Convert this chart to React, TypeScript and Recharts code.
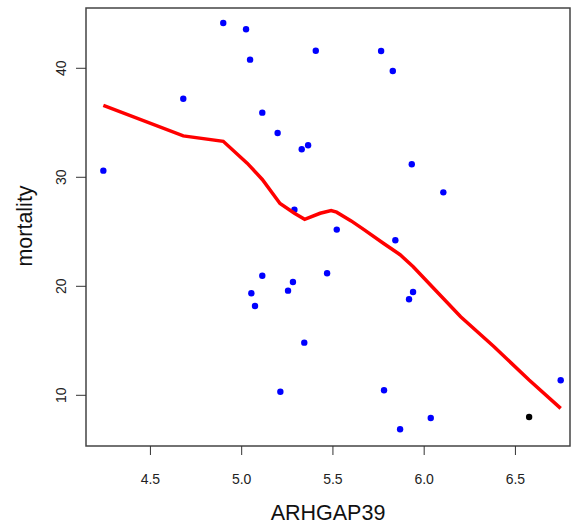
import React from 'react';
import { ScatterChart, Scatter, XAxis, YAxis, ReferenceArea } from 'recharts';

// expression values (x) and mortality (y)
const geneX = [4.899, 5.024, 5.046, 5.406, 4.68, 4.242, 5.113, 5.197, 5.329, 5.364, 5.289,
  5.764, 5.828, 5.932, 6.105, 5.521, 5.468, 5.113, 5.053, 5.073, 5.281, 5.254, 5.343, 5.212,
  5.842, 5.939, 5.917, 5.78, 5.868, 6.036, 6.748];
const mortality = [44.16, 43.58, 40.79, 41.61, 37.21, 30.61, 35.93, 34.06, 32.57, 32.94, 27.03,
  41.59, 39.75, 31.19, 28.62, 25.2, 21.2, 20.97, 19.36, 18.19, 20.39, 19.6, 14.83, 10.33,
  24.22, 19.48, 18.81, 10.46, 6.88, 7.92, 11.38];

// highlighted sample
const markX = [6.575];
const markY = [8.01];

// lowess fit
const fitX = [4.242, 4.68, 4.899, 5.03, 5.113, 5.21, 5.289, 5.345, 5.43, 5.49, 5.52, 5.6,
  5.67, 5.78, 5.868, 5.94, 6.036, 6.2, 6.38, 6.575, 6.748];
const fitY = [36.6, 33.8, 33.3, 31.3, 29.8, 27.6, 26.7, 26.15, 26.7, 26.95, 26.8, 26.0,
  25.2, 23.9, 22.9, 21.8, 20.1, 17.2, 14.5, 11.4, 8.8];

const xTicks = [4.5, 5.0, 5.5, 6.0, 6.5];
const yTicks = [10, 20, 30, 40];

const xDomain: [number, number] = [4.147, 6.799];
const yDomain: [number, number] = [5.35, 45.53];

const points = geneX.map((x, i) => ({ x, y: mortality[i] }));
const marked = markX.map((x, i) => ({ x, y: markY[i] }));
const fit = fitX.map((x, i) => ({ x, y: fitY[i] }));

const font = 'Arial, "Liberation Sans", sans-serif';

const YTick = (props: any) => {
  const { x, y, payload } = props;
  const cx = x - 5;
  return (
    <text x={cx} y={y} transform={`rotate(-90, ${cx}, ${y})`} textAnchor="middle"
      dominantBaseline="central" fontSize={14} fontFamily={font} fill="#222">
      {payload.value}
    </text>
  );
};

const App: React.FC = () => {
  return (
    <div style={{ position: 'absolute', left: 0, top: 0, background: '#fff' }}>
      <ScatterChart width={571} height={524} margin={{ top: 8, right: 1, left: 0, bottom: 0 }}>
        <XAxis
          type="number"
          dataKey="x"
          domain={xDomain}
          ticks={xTicks}
          allowDataOverflow
          height={78}
          axisLine={false}
          tickSize={9}
          tickMargin={19}
          tickLine={{ stroke: '#333' }}
          tickFormatter={(v: number) => v.toFixed(1)}
          tick={{ fontSize: 14, fontFamily: font, fill: '#222' }}
          label={{
            content: ({ viewBox }: any) => (
              <text x={viewBox.x + viewBox.width / 2} y={520} textAnchor="middle"
                fontSize={21.5} fontFamily={font} fill="#111">ARHGAP39</text>
            ),
          }}
        />
        <YAxis
          type="number"
          dataKey="y"
          domain={yDomain}
          ticks={yTicks}
          allowDataOverflow
          width={86}
          axisLine={false}
          tickSize={10}
          tickMargin={10}
          tickLine={{ stroke: '#333' }}
          tick={<YTick />}
          label={{
            content: ({ viewBox }: any) => {
              const cy = viewBox.y + viewBox.height / 2 - 1;
              return (
                <text x={25} y={cy} transform={`rotate(-90, 25, ${cy})`} textAnchor="middle"
                  dominantBaseline="central" fontSize={21.5} fontFamily={font} fill="#111">
                  mortality
                </text>
              );
            },
          }}
        />
        <ReferenceArea x1={xDomain[0]} x2={xDomain[1]} y1={yDomain[0]} y2={yDomain[1]}
          fill="none" stroke="#444" strokeWidth={1.5} ifOverflow="visible" />
        <Scatter data={points} fill="#0000ff" isAnimationActive={false}
          shape={(p: any) => <circle cx={p.cx} cy={p.cy} r={3.2} fill="#0000ff" />} />
        <Scatter data={marked} fill="#000" isAnimationActive={false}
          shape={(p: any) => <circle cx={p.cx} cy={p.cy} r={3.2} fill="#000" />} />
        <Scatter data={fit} isAnimationActive={false}
          line={{ stroke: '#ff0000', strokeWidth: 3.5 }}
          shape={() => <g />} />
      </ScatterChart>
    </div>
  );
};

export default App;
